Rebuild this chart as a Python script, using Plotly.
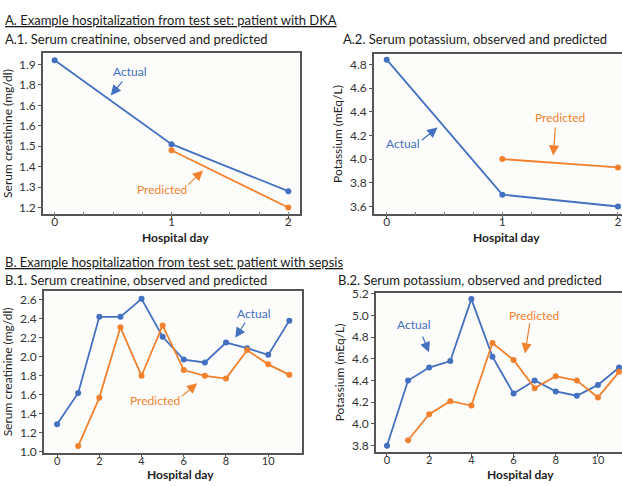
import plotly.graph_objects as go

W, H = 622, 486
BLUE = "#4470c0"
ORANGE = "#f2812e"
AXC = "#555555"
FONT = "Lato"

# ---- data ----
a1_days_actual = [0, 1, 2]
a1_actual = [1.92, 1.51, 1.28]
a1_days_pred = [1, 2]
a1_pred = [1.48, 1.20]
a1_tickvals = [1.2, 1.3, 1.4, 1.5, 1.6, 1.7, 1.8, 1.9]
a1_ticktext = ["1.2", "1.3", "1.4", "1.5", "1.6", "1.6", "1.8", "1.9"]

a2_days_actual = [0, 1, 2]
a2_actual = [4.84, 3.70, 3.60]
a2_days_pred = [1, 2]
a2_pred = [4.00, 3.93]
a2_tickvals = [3.6, 3.8, 4.0, 4.2, 4.4, 4.6, 4.8]

b_days_actual = list(range(0, 12))
b1_actual = [1.29, 1.62, 2.42, 2.42, 2.61, 2.21, 1.97, 1.94, 2.15, 2.09, 2.02, 2.38]
b_days_pred = list(range(1, 12))
b1_pred = [1.06, 1.57, 2.31, 1.80, 2.33, 1.86, 1.80, 1.77, 2.07, 1.92, 1.81]
b1_tickvals = [1.0, 1.2, 1.4, 1.6, 1.8, 2.0, 2.2, 2.4, 2.6]

b2_actual = [3.80, 4.40, 4.52, 4.58, 5.15, 4.62, 4.28, 4.40, 4.30, 4.26, 4.36, 4.52]
b2_pred = [3.85, 4.09, 4.21, 4.17, 4.745, 4.59, 4.33, 4.44, 4.40, 4.245, 4.48]
b2_tickvals = [3.8, 4.0, 4.2, 4.4, 4.6, 4.8, 5.0, 5.2]

a_xticks = [0, 1, 2]
b_xticks = [0, 2, 4, 6, 8, 10]

fig = go.Figure()


def px_x(a, b):
    return [a / W, b / W]


def px_y(top, bottom):
    return [1 - bottom / H, 1 - top / H]


def add_line(x, y, color, xa, ya):
    fig.add_trace(go.Scatter(
        x=x, y=y, mode="lines+markers", xaxis=xa, yaxis=ya,
        line=dict(color=color, width=1.8),
        marker=dict(color=color, size=6, symbol="circle"),
        showlegend=False, hoverinfo="skip"))


add_line(a1_days_actual, a1_actual, BLUE, "x", "y")
add_line(a1_days_pred, a1_pred, ORANGE, "x", "y")
add_line(a2_days_actual, a2_actual, BLUE, "x2", "y2")
add_line(a2_days_pred, a2_pred, ORANGE, "x2", "y2")
add_line(b_days_actual, b1_actual, BLUE, "x3", "y3")
add_line(b_days_pred, b1_pred, ORANGE, "x3", "y3")
add_line(b_days_actual, b2_actual, BLUE, "x4", "y4")
add_line(b_days_pred, b2_pred, ORANGE, "x4", "y4")

tickfont = dict(family=FONT, size=12, color="#333333")
tickfont_b = dict(family=FONT, size=11, color="#333333")


def xaxis(domain, rng, ticks, anchor, mirror=True, minor=None, standoff=-5, font=tickfont):
    d = dict(domain=domain, range=rng, tickvals=ticks, ticks="outside", ticklen=3,
             tickcolor=AXC, tickwidth=1, showline=True, linecolor=AXC, linewidth=1.5,
             mirror=mirror, showgrid=False, zeroline=False, tickfont=font,
             ticklabelstandoff=standoff, anchor=anchor)
    if minor:
        d["minor"] = minor
    return d


def yaxis(domain, rng, ticks, anchor, title, mirror=True, ticktext=None):
    d = dict(domain=domain, range=rng, tickvals=ticks, ticks="outside", ticklen=3,
             tickcolor=AXC, tickwidth=1, showline=True, linecolor=AXC, linewidth=1.5,
             mirror=mirror, showgrid=False, zeroline=False, tickfont=tickfont,
             tickformat=".1f", anchor=anchor,
             title=dict(text=title, font=dict(family=FONT, size=12, color="#222222"), standoff=5))
    if ticktext:
        d["ticktext"] = ticktext
    return d


minor_a = dict(dtick=0.25, ticks="inside", ticklen=3, tickcolor="#888888", showgrid=False)

fig.update_layout(
    width=W, height=H, margin=dict(l=0, r=0, t=0, b=0),
    paper_bgcolor="white", plot_bgcolor="#fcfcfa",
    xaxis=xaxis(px_x(43, 300), [-0.1, 2.1], a_xticks, "y", minor=minor_a, standoff=-7),
    yaxis=yaxis(px_y(47, 213), [1.167, 1.957], a1_tickvals, "x", "Serum creatinine (mg/dl)", ticktext=a1_ticktext),
    xaxis2=xaxis(px_x(374, 622), [-0.11, 2.035], a_xticks, "y2", minor=minor_a, standoff=-7),
    yaxis2=yaxis(px_y(48, 213), [3.534, 4.89], a2_tickvals, "x2", "Potassium (mEq/L)", mirror=False),
    xaxis3=xaxis(px_x(44, 302), [-0.62, 11.6], b_xticks, "y3", standoff=-6, font=tickfont_b),
    yaxis3=yaxis(px_y(292, 458), [0.99, 2.69], b1_tickvals, "x3", "Serum creatinine (mg/dl)"),
    xaxis4=xaxis(px_x(376, 622), [-0.52, 11.14], b_xticks, "y4", standoff=-6, font=tickfont_b),
    yaxis4=yaxis(px_y(294, 457), [3.744, 5.205], b2_tickvals, "x4", "Potassium (mEq/L)", mirror=False),
)

ann = []


def ptext(x, y, text, size=13, underline=False, anchor="left", weight="normal",
          color="#1a1a1a", yanchor="middle"):
    if underline:
        text = "<u>" + text + "</u>"
    ann.append(dict(x=x / W, y=1 - y / H, xref="paper", yref="paper", text=text,
                    showarrow=False, xanchor=anchor, yanchor=yanchor,
                    font=dict(family=FONT, size=size, color=color, weight=weight)))


ptext(3, 13, "A. Example hospitalization from test set: patient with DKA", underline=True)
ptext(3, 33, "A.1. Serum creatinine, observed and predicted")
ptext(341, 33, "A.2. Serum potassium, observed and predicted")
ptext(3, 262, "B. Example hospitalization from test set: patient with sepsis", underline=True)
ptext(3, 281, "B.1. Serum creatinine, observed and predicted")
ptext(336, 281, "B.2. Serum potassium, observed and predicted")

# x-axis titles
ptext(175, 237, "Hospital day", size=12, anchor="center", weight="bold", color="#222222")
ptext(506, 237, "Hospital day", size=12, anchor="center", weight="bold", color="#222222")
ptext(180, 490, "Hospital day", size=12, anchor="center", weight="bold", color="#222222", yanchor="bottom")
ptext(520, 490, "Hospital day", size=12, anchor="center", weight="bold", color="#222222", yanchor="bottom")


def label(xa, ya, x, y, text, color, tail, tip):
    ann.append(dict(x=x, y=y, xref=xa, yref=ya, text=text, showarrow=False,
                    font=dict(family=FONT, size=12, color=color)))
    ann.append(dict(x=tip[0], y=tip[1], xref=xa, yref=ya, ax=tail[0], ay=tail[1],
                    axref=xa, ayref=ya, text="", showarrow=True, arrowhead=2,
                    arrowsize=1.7, arrowwidth=1.2, arrowcolor=color))


label("x", "y", 0.64, 1.867, "Actual", BLUE, (0.59, 1.824), (0.48, 1.748))
label("x", "y", 0.92, 1.286, "Predicted", ORANGE, (1.13, 1.305), (1.27, 1.381))
label("x2", "y2", 0.14, 4.13, "Actual", BLUE, (0.29, 4.15), (0.44, 4.266))
label("x2", "y2", 1.50, 4.35, "Predicted", ORANGE, (1.46, 4.28), (1.44, 4.03))
label("x3", "y3", 9.29, 2.45, "Actual", BLUE, (8.96, 2.376), (8.44, 2.20))
label("x3", "y3", 4.64, 1.54, "Predicted", ORANGE, (5.83, 1.57), (6.64, 1.72))
label("x4", "y4", 1.28, 4.92, "Actual", BLUE, (1.66, 4.82), (1.99, 4.66))
label("x4", "y4", 6.97, 5.0, "Predicted", ORANGE, (6.78, 4.94), (6.54, 4.65))

fig.update_layout(annotations=ann)
fig.write_html("out.html", config={"displayModeBar": False},
               post_script="document.body.style.margin='0';document.body.style.overflow='hidden';")
